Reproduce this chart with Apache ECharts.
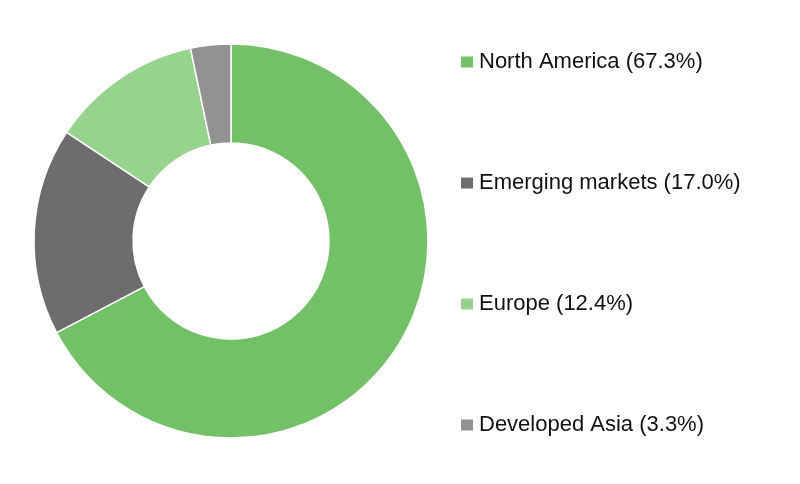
<!DOCTYPE html>
<html><head><meta charset="utf-8">
<script src="https://cdn.jsdelivr.net/npm/echarts@6/dist/echarts.min.js"></script>
<style>html,body{margin:0;padding:0;background:#fff}#c{width:800px;height:484px}</style>
</head><body><div id="c"></div>
<script>
const categories = ['North America', 'Emerging markets', 'Europe', 'Developed Asia'];
const values = [67.3, 17.0, 12.4, 3.3];
const colors = ['#73c167', '#6d6d6d', '#96d38c', '#929292'];
const chart = echarts.init(document.getElementById('c'));
chart.setOption({
  animation: false,
  color: colors,
  legend: {
    orient: 'vertical',
    left: 454,
    top: 43,
    itemWidth: 14,
    itemHeight: 13,
    itemGap: 93,
    icon: 'rect',
    data: categories,
    formatter: name => name + ' (' + values[categories.indexOf(name)].toFixed(1) + '%)',
    textStyle: { fontFamily: '"Liberation Sans", Arial, sans-serif', fontSize: 22, color: '#111', lineHeight: 28 }
  },
  series: [{
    type: 'pie',
    center: [231, 241],
    radius: [98, 197],
    startAngle: 90,
    clockwise: true,
    label: { show: false },
    labelLine: { show: false },
    itemStyle: { borderColor: '#fff', borderWidth: 1.5 },
    emphasis: { disabled: true },
    data: categories.map((c, i) => ({ name: c, value: values[i] }))
  }]
});
</script></body></html>
